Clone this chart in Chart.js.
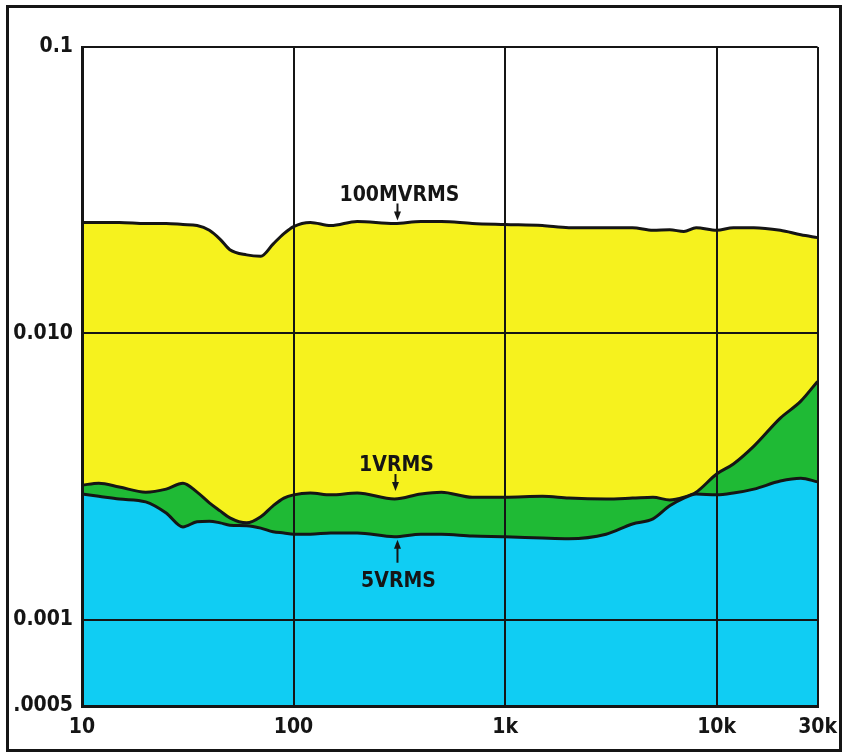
<!DOCTYPE html>
<html lang="en">
<head>
  <meta charset="UTF-8">
  <title>Distortion vs frequency</title>
  <script src="https://cdn.jsdelivr.net/npm/chart.js"></script>
  <style>
    html, body { margin: 0; padding: 0; background: #fff; }
    .box { position: relative; width: 846px; height: 755px; }
  </style>
</head>
<body>
  <div class="box">
    <canvas id="grafico"></canvas>
  </div>
<script>
  // frequency (Hz) where each curve was read
  const freqs = [10, 12, 15, 20, 25, 30, 35, 40, 45, 50, 60, 70, 80, 90, 100, 120, 150, 200, 300, 400, 500, 700,
    1000, 1500, 2000, 3000, 4000, 5000, 6000, 7000, 8000, 10000, 12000, 15000, 20000, 25000, 30000];

  const mv100 = [0.0244, 0.0244, 0.0244, 0.0242, 0.0242, 0.0240, 0.0238, 0.0229, 0.0213, 0.0196, 0.0188, 0.0186, 0.0205, 0.0223, 0.0236,
    0.0244, 0.0238, 0.0246, 0.0242, 0.0246, 0.0246, 0.0242, 0.0240, 0.0238, 0.0234, 0.0234, 0.0234, 0.0229, 0.0230, 0.0227,
    0.0234, 0.0229, 0.0234, 0.0234, 0.0229, 0.0221, 0.0216];

  const v1 = [0.00295, 0.00300, 0.00291, 0.00279, 0.00286, 0.00300, 0.00279, 0.00256, 0.00240, 0.00227, 0.00218, 0.00229, 0.00250,
    0.00266, 0.00273, 0.00277, 0.00273, 0.00277, 0.00264, 0.00275, 0.00279, 0.00268, 0.00268, 0.00270, 0.00266, 0.00264,
    0.00266, 0.00268, 0.00262, 0.00268, 0.00279, 0.00323, 0.00350, 0.00404, 0.00506, 0.00580, 0.00680];

  const v5 = [0.00275, 0.00270, 0.00264, 0.00258, 0.00236, 0.00211, 0.00220, 0.00221, 0.00218, 0.00214, 0.00213, 0.00209, 0.00203,
    0.00201, 0.00199, 0.00199, 0.00201, 0.00201, 0.00195, 0.00199, 0.00199, 0.00196, 0.00195, 0.00193, 0.00192, 0.00199,
    0.00216, 0.00225, 0.00250, 0.00266, 0.00275, 0.00273, 0.00277, 0.00286, 0.00305, 0.00312, 0.00303];

  const seriesNames = ['5VRMS', '1VRMS', '100MVRMS'];

  const xTicks = [10, 100, 1000, 10000, 30000];
  const xTickLabels = ['10', '100', '1k', '10k', '30k'];
  const yTicks = [0.0005, 0.001, 0.01, 0.1];
  const yTickLabels = ['.0005', '0.001', '0.010', '0.1'];

  const fonte = "'Liberation Sans Narrow', 'DejaVu Sans Condensed', 'Arial Narrow', sans-serif";
  const preto = '#151515';

  function pontos(vals) {
    return freqs.map((f, i) => ({ x: f, y: vals[i] }));
  }

  // outer frame + curve labels with arrows
  const rotulos = {
    id: 'rotulos',
    afterDraw(chart) {
      const ctx = chart.ctx;
      const xs = chart.scales.x;
      const ys = chart.scales.y;
      ctx.save();
      ctx.strokeStyle = preto;
      ctx.lineWidth = 3;
      ctx.strokeRect(7.5, 6.5, 833, 744);

      ctx.fillStyle = preto;
      ctx.font = 'bold 21px ' + fonte;
      ctx.textAlign = 'center';
      ctx.textBaseline = 'alphabetic';

      function seta(x, y0, y1) {
        const dir = y1 > y0 ? 1 : -1;
        ctx.lineWidth = 2;
        ctx.beginPath();
        ctx.moveTo(x, y0);
        ctx.lineTo(x, y1 - dir * 6);
        ctx.stroke();
        ctx.beginPath();
        ctx.moveTo(x - 3.5, y1 - dir * 9);
        ctx.lineTo(x + 3.5, y1 - dir * 9);
        ctx.lineTo(x, y1);
        ctx.closePath();
        ctx.fill();
      }

      // 100MVRMS
      let px = xs.getPixelForValue(300);
      let py = ys.getPixelForValue(mv100[18]);
      ctx.fillText(seriesNames[2], px + 5, py - 22);
      seta(px + 3, py - 20, py - 3);

      // 1VRMS
      py = ys.getPixelForValue(v1[18]);
      ctx.fillText(seriesNames[1], px + 2, py - 28);
      seta(px + 1, py - 25, py - 8);

      // 5VRMS
      py = ys.getPixelForValue(v5[18]);
      ctx.fillText(seriesNames[0], px + 4, py + 50);
      seta(px + 3, py + 26, py + 3);
      ctx.restore();
    }
  };

  const grafico = new Chart(document.getElementById('grafico'), {
    type: 'line',
    data: {
      datasets: [
        {
          label: seriesNames[0],
          data: pontos(v5),
          backgroundColor: '#10cdf3',
          fill: 'start'
        },
        {
          label: seriesNames[1],
          data: pontos(v1),
          backgroundColor: '#1fba35',
          fill: 'start'
        },
        {
          label: seriesNames[2],
          data: pontos(mv100),
          backgroundColor: '#f6f21e',
          fill: 'start'
        }
      ]
    },
    options: {
      responsive: true,
      maintainAspectRatio: false,
      animation: false,
      datasets: {
        line: {
          borderColor: preto,
          borderWidth: 3,
          pointRadius: 0,
          cubicInterpolationMode: 'monotone'
        }
      },
      layout: { padding: { left: 0, top: 47, right: 26, bottom: 0 } },
      plugins: {
        legend: { display: false },
        tooltip: { enabled: false }
      },
      scales: {
        x: {
          type: 'logarithmic',
          min: 10,
          max: 30000,
          afterBuildTicks: (s) => { s.ticks = xTicks.map(v => ({ value: v })); },
          afterFit: (s) => { s.height = 49; },
          grid: { color: preto, lineWidth: 2, drawTicks: false, z: 1 },
          border: { color: preto, width: 3, z: 1 },
          ticks: {
            padding: 9,
            color: preto,
            maxRotation: 0,
            autoSkip: false,
            font: { family: fonte, size: 21, weight: 'bold' },
            callback: (v, i) => xTickLabels[i]
          }
        },
        y: {
          type: 'logarithmic',
          min: 0.0005,
          max: 0.1,
          afterBuildTicks: (s) => { s.ticks = yTicks.map(v => ({ value: v })); },
          afterFit: (s) => { s.width = 82; },
          grid: { color: preto, lineWidth: 2, drawTicks: false, z: 1 },
          border: { color: preto, width: 3, z: 1 },
          ticks: {
            padding: 9,
            color: preto,
            autoSkip: false,
            font: { family: fonte, size: 21, weight: 'bold' },
            callback: (v, i) => yTickLabels[i]
          }
        }
      }
    },
    plugins: [rotulos]
  });
</script>
</body>
</html>
